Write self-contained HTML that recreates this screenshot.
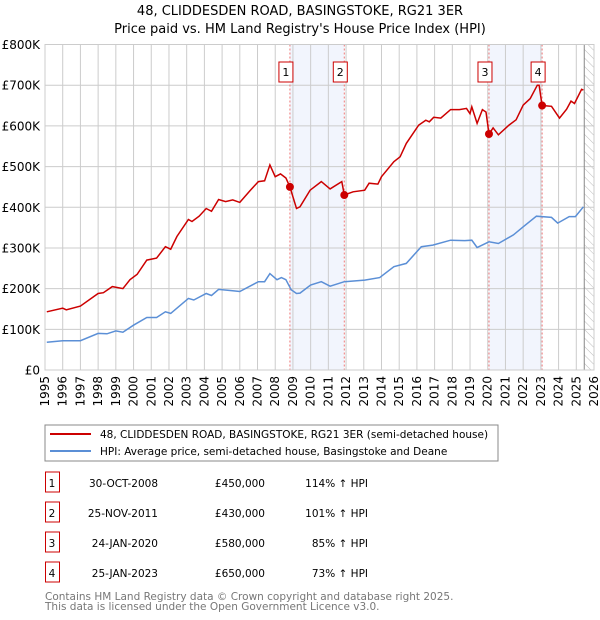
<!DOCTYPE html>
<html><head><meta charset="utf-8"><style>
body{margin:0;background:#fff;font-family:"DejaVu Sans","Liberation Sans",sans-serif;}
svg{display:block}
</style></head><body>
<svg id="c" width="600" height="620" xmlns="http://www.w3.org/2000/svg">
<text x="300" y="15" text-anchor="middle" font-size="13">48, CLIDDESDEN ROAD, BASINGSTOKE, RG21 3ER</text>
<text x="300" y="33" text-anchor="middle" font-size="13">Price paid vs. HM Land Registry's House Price Index (HPI)</text>
<defs><pattern id="hatch" width="6" height="6" patternUnits="userSpaceOnUse" patternTransform="rotate(-45)"><line x1="0" y1="0" x2="0" y2="6" stroke="#bbb" stroke-width="1"/></pattern></defs>
<g id="plot"></g>
<rect x="45" y="425" width="453" height="36" fill="#fff" stroke="#888"/>
<line x1="50" y1="434" x2="91" y2="434" stroke="#cc0000" stroke-width="2"/>
<text x="100" y="438" font-size="10.5">48, CLIDDESDEN ROAD, BASINGSTOKE, RG21 3ER (semi-detached house)</text>
<line x1="50" y1="451" x2="91" y2="451" stroke="#5b8fd6" stroke-width="2"/>
<text x="100" y="455" font-size="10.5">HPI: Average price, semi-detached house, Basingstoke and Deane</text>
<g id="table" font-size="10.5"></g>
<text x="45" y="600" font-size="10.5" fill="#777">Contains HM Land Registry data © Crown copyright and database right 2025.</text>
<text x="45" y="610" font-size="10.5" fill="#777">This data is licensed under the Open Government Licence v3.0.</text>
</svg>
<script>
const redYears=[1995.1,1996.0,1996.2,1997.0,1998.0,1998.3,1998.8,1999.4,1999.8,2000.2,2000.75,2001.3,2001.8,2002.1,2002.45,2003.1,2003.3,2003.7,2004.1,2004.4,2004.8,2005.2,2005.6,2006.0,2006.6,2007.05,2007.4,2007.7,2008.0,2008.3,2008.6,2008.83,2009.2,2009.4,2009.97,2010.6,2011.1,2011.76,2011.9,2012.4,2013.05,2013.3,2013.8,2014.0,2014.7,2015.05,2015.4,2016.1,2016.5,2016.7,2016.95,2017.35,2017.9,2018.4,2018.8,2019.0,2019.1,2019.4,2019.7,2019.9,2020.07,2020.3,2020.6,2021.2,2021.6,2022.0,2022.4,2022.8,2022.9,2023.07,2023.6,2024.05,2024.45,2024.7,2024.9,2025.3,2025.4];
const redValues=[143,152,148,157,188,190,205,200,222,235,270,275,303,297,328,370,365,378,397,390,419,414,418,412,442,463,465,504,475,482,472,450,397,401,442,463,445,463,430,438,442,459,457,475,512,524,557,602,614,610,621,619,640,640,643,630,647,606,640,634,580,595,578,602,615,651,667,700,700,650,648,619,641,661,655,690,688];
const hpiYears=[1995.1,1996.0,1997.0,1998.0,1998.5,1999.0,1999.4,2000.0,2000.75,2001.3,2001.8,2002.1,2003.1,2003.4,2004.1,2004.4,2004.8,2005.6,2006.0,2007.05,2007.4,2007.7,2008.1,2008.35,2008.6,2008.9,2009.2,2009.4,2010.0,2010.6,2011.1,2011.9,2013.05,2013.9,2014.7,2015.4,2016.25,2016.9,2017.9,2018.7,2019.1,2019.4,2020.07,2020.6,2021.45,2022.0,2022.75,2023.6,2023.95,2024.6,2024.95,2025.4];
const hpiValues=[68,72,72,90,89,96,93,110,129,129,143,139,176,172,188,183,198,195,193,217,217,237,222,227,222,197,188,189,209,217,206,217,221,227,254,262,303,307,319,318,319,301,315,311,332,352,378,375,361,377,377,401];
const saleLabels=["1","2","3","4"];
const saleYears=[2008.83,2011.9,2020.07,2023.07];
const saleValues=[450,430,580,650];
const saleDates=["30-OCT-2008","25-NOV-2011","24-JAN-2020","25-JAN-2023"];
const salePrices=["£450,000","£430,000","£580,000","£650,000"];
const saleHpi=["114% ↑ HPI","101% ↑ HPI","85% ↑ HPI","73% ↑ HPI"];
const yTicks=[0,100,200,300,400,500,600,700,800];
const yTickLabels=["£0","£100K","£200K","£300K","£400K","£500K","£600K","£700K","£800K"];
const xTicks=[1995,1996,1997,1998,1999,2000,2001,2002,2003,2004,2005,2006,2007,2008,2009,2010,2011,2012,2013,2014,2015,2016,2017,2018,2019,2020,2021,2022,2023,2024,2025,2026];
const hatchStart=2025.45;

const X0=45,X1=594,Y0=370,Y1=44.5;
const xs=y=>X0+(y-1995)/(2026-1995)*(X1-X0);
const ys=v=>Y0-v/800*(Y0-Y1);
const NS="http://www.w3.org/2000/svg";
const plot=document.getElementById('plot');
function mk(tag,attrs,parent){const e=document.createElementNS(NS,tag);for(const k in attrs)e.setAttribute(k,attrs[k]);(parent||plot).appendChild(e);return e;}
for(let i=0;i<saleYears.length;i+=2){
  const r=mk('rect',{x:xs(saleYears[i]),y:Y1,width:xs(saleYears[i+1])-xs(saleYears[i]),height:Y0-Y1,fill:'#f2f5fd'});
  
  
}
const hr=mk('rect',{x:xs(hatchStart),y:Y1,width:X1-xs(hatchStart),height:Y0-Y1,fill:'url(#hatch)'});


xTicks.forEach(t=>{
  const l=mk('line',{x1:xs(t),x2:xs(t),y1:Y1,y2:Y0,stroke:'#ccc','stroke-width':1});
  
  
  const tx=mk('text',{x:0,y:0,'font-size':12,'text-anchor':'end',transform:`translate(${xs(t)+4},${Y0+6}) rotate(-90)`});
  tx.textContent=t;
  
  
});
yTicks.forEach((t,i)=>{
  const l=mk('line',{x1:X0,x2:X1,y1:ys(t),y2:ys(t),stroke:'#ccc','stroke-width':1});
  
  
  const tx=mk('text',{x:40,y:ys(t)+4.5,'font-size':12,'text-anchor':'end'});
  tx.textContent=yTickLabels[i];
  
  
});
const hl=mk('line',{x1:xs(hatchStart),x2:xs(hatchStart),y1:Y1,y2:Y0,stroke:'#888','stroke-width':1});


saleYears.forEach((y,i)=>{
  const l=mk('line',{x1:xs(y),x2:xs(y),y1:Y1,y2:Y0,stroke:'#ee7777','stroke-width':1,'stroke-dasharray':'2,2'});
  
  
  const b=mk('rect',{x:xs(y)-11,y:62,width:14,height:20,fill:'#fff',stroke:'#cc0000'});
  
  
  const t=mk('text',{x:xs(y)-4,y:76,'font-size':11,'text-anchor':'middle'});
  t.textContent=saleLabels[i];
  
  
});
function path(xa,va){return xa.map((x,i)=>(i?'L':'M')+xs(x).toFixed(1)+','+ys(va[i]).toFixed(1)).join('');}
const hp=mk('path',{d:path(hpiYears,hpiValues),fill:'none',stroke:'#5b8fd6','stroke-width':1.5});


const rp=mk('path',{d:path(redYears,redValues),fill:'none',stroke:'#cc0000','stroke-width':1.5});


saleYears.forEach((y,i)=>{
  const c=mk('circle',{cx:xs(y),cy:ys(saleValues[i]),r:4,fill:'#cc0000'});
  
  
});
mk('rect',{x:X0,y:Y1,width:X1-X0,height:Y0-Y1,fill:'none',stroke:'#ccc'});
const tb=document.getElementById('table');
saleYears.forEach((y,i)=>{
  const cy=483+i*30;
  const b=mk('rect',{x:45.5,y:cy-11,width:14,height:20,fill:'#fff',stroke:'#cc0000'},tb);
  
  
  const cells=[[52,'middle',saleLabels[i],'table-row-number'],[158,'end',saleDates[i],'table-date'],[265,'end',salePrices[i],'table-price'],[368,'end',saleHpi[i],'table-hpi-change']];
  cells.forEach(([x,a,s,n])=>{
    const t=mk('text',{x:x,y:cy+4,'text-anchor':a},tb);
    t.textContent=s;
    
    
  });
});
</script>
</body></html>
